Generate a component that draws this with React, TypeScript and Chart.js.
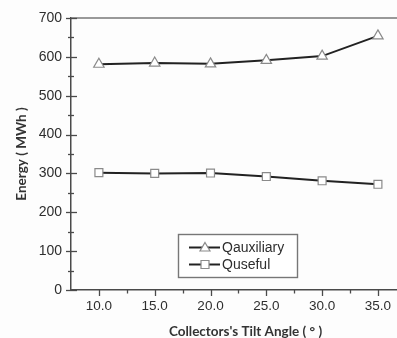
import React, { useEffect, useRef } from "react";
import { Chart, registerables } from "chart.js";

Chart.register(...registerables);

const tiltAngles = [10, 15, 20, 25, 30, 35];
const qAuxiliary = [581, 584, 582, 591, 602, 654];
const qUseful = [302, 300, 301, 292, 281, 272];
const xMajorTicks = [10, 15, 20, 25, 30, 35];
const xMinorTicks = [7.5, 12.5, 17.5, 22.5, 27.5, 32.5, 37.5];
const yMajorTicks = [0, 100, 200, 300, 400, 500, 600, 700];
const yMinorTicks = [50, 150, 250, 350, 450, 550, 650];
const seriesNames = ["Qauxiliary", "Quseful"];

const AXIS = "#4a4a4a";
const LINE = "#222222";
const MARK = "#8a8a8a";
const TEXT = "#2e2e2e";

const decorPlugin = {
  id: "decor",
  afterDraw(chart: any) {
    const { ctx, chartArea, scales } = chart;
    const x = scales.x;
    const y = scales.y;
    ctx.save();
    // top border
    ctx.strokeStyle = "#777";
    ctx.lineWidth = 1.6;
    ctx.beginPath();
    ctx.moveTo(chartArea.left, chartArea.top);
    ctx.lineTo(chartArea.right, chartArea.top);
    ctx.stroke();
    // y ticks
    ctx.strokeStyle = AXIS;
    ctx.lineWidth = 1.3;
    const ax = chartArea.left;
    yMajorTicks.forEach((v) => {
      const py = Math.round(y.getPixelForValue(v)) + 0.5;
      ctx.beginPath();
      ctx.moveTo(ax - 5, py);
      ctx.lineTo(ax + 6, py);
      ctx.stroke();
    });
    yMinorTicks.forEach((v) => {
      const py = Math.round(y.getPixelForValue(v)) + 0.5;
      ctx.beginPath();
      ctx.moveTo(ax - 3, py);
      ctx.lineTo(ax + 3, py);
      ctx.stroke();
    });
    // x ticks
    const by = chartArea.bottom;
    xMajorTicks.forEach((v) => {
      const px = Math.round(x.getPixelForValue(v)) + 0.5;
      ctx.beginPath();
      ctx.moveTo(px, by);
      ctx.lineTo(px, by + 6);
      ctx.stroke();
    });
    xMinorTicks.forEach((v) => {
      const px = Math.round(x.getPixelForValue(v)) + 0.5;
      if (px <= chartArea.left + 1) return;
      ctx.beginPath();
      ctx.moveTo(px, by);
      ctx.lineTo(px, by + 3.5);
      ctx.stroke();
    });
    // legend
    const bx = 178, bYt = 234, bw = 119, bh = 43;
    ctx.fillStyle = "#fff";
    ctx.fillRect(bx, bYt, bw, bh);
    ctx.strokeStyle = "#777";
    ctx.lineWidth = 1.4;
    ctx.strokeRect(bx + 0.5, bYt + 0.5, bw, bh);
    const rows = [247.5, 264.5];
    chart.data.datasets.forEach((ds: any, i: number) => {
      const ry = rows[i];
      ctx.strokeStyle = LINE;
      ctx.lineWidth = 2;
      ctx.beginPath();
      ctx.moveTo(189, ry);
      ctx.lineTo(220, ry);
      ctx.stroke();
      ctx.fillStyle = "#fff";
      ctx.strokeStyle = MARK;
      ctx.lineWidth = 1.2;
      const cx = 205;
      ctx.beginPath();
      if (i === 0) {
        ctx.moveTo(cx, ry - 5);
        ctx.lineTo(cx + 5, ry + 3.5);
        ctx.lineTo(cx - 5, ry + 3.5);
        ctx.closePath();
      } else {
        ctx.rect(cx - 4, ry - 4, 8, 8);
      }
      ctx.fill();
      ctx.stroke();
      ctx.fillStyle = TEXT;
      ctx.font = "14px 'Liberation Sans', Arial, sans-serif";
      ctx.textBaseline = "middle";
      ctx.textAlign = "left";
      ctx.fillText(ds.label, 222, ry + 0.5);
    });
    ctx.restore();
  },
};

export default function App() {
  const ref = useRef<HTMLCanvasElement>(null);
  useEffect(() => {
    if (!ref.current) return;
    const chart = new Chart(ref.current, {
      type: "line",
      data: {
        datasets: [
          {
            label: seriesNames[0],
            data: tiltAngles.map((t, i) => ({ x: t, y: qAuxiliary[i] })),
            borderColor: LINE,
            borderWidth: 2,
            pointStyle: "triangle",
            pointRadius: 6,
            pointBackgroundColor: "#fff",
            pointBorderColor: MARK,
            pointBorderWidth: 1.2,
          },
          {
            label: seriesNames[1],
            data: tiltAngles.map((t, i) => ({ x: t, y: qUseful[i] })),
            borderColor: LINE,
            borderWidth: 2,
            pointStyle: "rect",
            pointRadius: 5.6,
            pointBackgroundColor: "#fff",
            pointBorderColor: MARK,
            pointBorderWidth: 1.2,
          },
        ],
      },
      options: {
        animation: false,
        responsive: false,
        devicePixelRatio: 1,
        layout: { autoPadding: false, padding: { left: 0, top: 18, right: 0, bottom: 0 } },
        plugins: { legend: { display: false }, tooltip: { enabled: false } },
        scales: {
          x: {
            type: "linear",
            min: 7.5,
            max: 38.77,
            afterFit: (s: any) => {
              s.height = 48;
            },
            afterBuildTicks: (s: any) => {
              s.ticks = xMajorTicks.map((v) => ({ value: v }));
            },
            grid: { display: false, drawTicks: false },
            border: { display: true, color: AXIS, width: 1.5 },
            ticks: {
              padding: 8,
              color: TEXT,
              font: { family: "'Liberation Sans', Arial, sans-serif", size: 13.5 },
              callback: (v: any) => Number(v).toFixed(1),
              maxRotation: 0,
            },
            title: {
              display: true,
              text: "Collectors's Tilt Angle ( ° )",
              color: "#333",
              font: { family: "Lato", size: 13.5, weight: "bold", lineHeight: 1 },
              padding: { top: 0, bottom: 0 },
            },
          },
          y: {
            min: 0,
            max: 700,
            afterFit: (s: any) => {
              s.width = 71;
            },
            afterBuildTicks: (s: any) => {
              s.ticks = yMajorTicks.map((v) => ({ value: v }));
            },
            grid: { display: false, drawTicks: false },
            border: { display: true, color: AXIS, width: 1.5 },
            ticks: {
              padding: 9,
              color: TEXT,
              font: { family: "'Liberation Sans', Arial, sans-serif", size: 14 },
            },
            title: {
              display: true,
              text: "Energy ( MWh )",
              color: "#333",
              font: { family: "Lato", size: 13.5, weight: "bold", lineHeight: 1.2 },
              padding: { top: 14, bottom: 0 },
            },
          },
        },
      },
      plugins: [decorPlugin],
    });
    return () => chart.destroy();
  }, []);
  return (
    <div
      style={{
        position: "absolute",
        left: 0,
        top: 0,
        width: 397,
        height: 338,
        overflow: "hidden",
        background: "#fdfdfd",
      }}
    >
      <canvas ref={ref} width={420} height={338} style={{ display: "block" }} />
    </div>
  );
}
